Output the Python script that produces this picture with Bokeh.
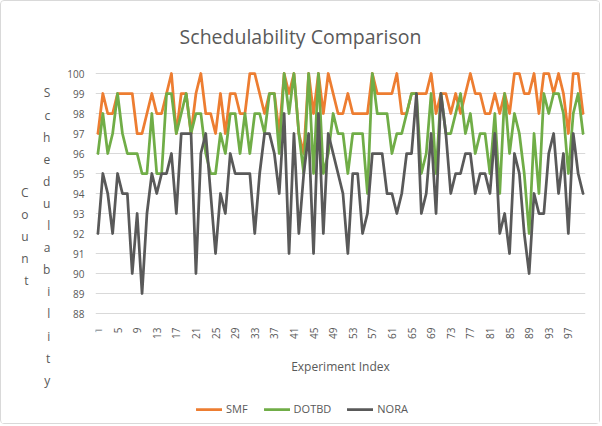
import math
from bokeh.plotting import figure
from bokeh.models import Range1d, FixedTicker, Legend, LegendItem, LinearAxis, Label
from bokeh.embed import file_html
from bokeh.resources import INLINE

# Schedulability (count) per experiment for each scheduler
experiment = list(range(1, 101))
smf = [97, 99, 98, 98, 99, 99, 99, 99, 97, 97,
       98, 99, 98, 98, 99, 100, 97, 99, 99, 97,
       99, 100, 98, 98, 97, 99, 97, 99, 99, 98,
       98, 100, 100, 99, 98, 99, 99, 97, 100, 99,
       100, 97, 96, 100, 98, 100, 98, 100, 99, 98,
       98, 99, 98, 98, 98, 98, 100, 99, 99, 99,
       99, 100, 98, 98, 99, 99, 99, 99, 100, 98,
       99, 99, 98, 99, 98, 99, 100, 99, 99, 98,
       98, 99, 98, 99, 98, 100, 100, 99, 99, 100,
       98, 100, 100, 99, 100, 99, 97, 100, 100, 98]
dotbd = [96, 98, 96, 97, 99, 97, 96, 96, 96, 95,
         95, 98, 95, 95, 99, 99, 97, 98, 99, 97,
         98, 98, 96, 95, 95, 97, 96, 98, 98, 96,
         98, 96, 98, 98, 97, 99, 99, 96, 100, 98,
         100, 97, 95, 100, 95, 100, 95, 96, 98, 97,
         97, 95, 97, 97, 97, 94, 100, 98, 98, 98,
         96, 97, 97, 98, 99, 99, 95, 96, 99, 95,
         99, 97, 97, 98, 99, 97, 98, 96, 97, 97,
         95, 98, 94, 99, 96, 98, 97, 95, 92, 97,
         94, 99, 98, 99, 99, 98, 95, 98, 99, 97]
nora = [92, 95, 94, 92, 95, 94, 94, 90, 93, 89,
        93, 95, 94, 95, 95, 96, 93, 97, 97, 97,
        90, 96, 97, 94, 91, 94, 93, 96, 95, 95,
        95, 95, 92, 95, 97, 97, 96, 94, 98, 91,
        97, 92, 95, 97, 91, 98, 92, 97, 96, 95,
        94, 91, 95, 95, 92, 93, 96, 96, 96, 94,
        94, 93, 94, 96, 96, 99, 93, 94, 97, 93,
        99, 97, 94, 95, 95, 96, 96, 94, 95, 95,
        94, 97, 92, 93, 91, 96, 95, 92, 90, 94,
        93, 93, 96, 97, 94, 96, 92, 97, 95, 94]

series_names = ["SMF", "DOTBD", "NORA"]
series_colors = ["#ED7D31", "#70AD47", "#595959"]

x_ticks = [1, 5, 9, 13, 17, 21, 25, 29, 33, 37, 41, 45, 49,
           53, 57, 61, 65, 69, 73, 77, 81, 85, 89, 93, 97]
y_ticks = [88, 89, 90, 91, 92, 93, 94, 95, 96, 97, 98, 99, 100]

title_text = "Schedulability Comparison"
x_title = "Experiment Index"
y_title_words = ["Schedulability", "Count"]

FONT = "Open Sans"
TEXT = "#595959"

# canvas 600x424 inside a 1px chart border; frame spans x 94..584, y 24..424
LEFT, RIGHT, TOP = 94, 16, 24
X0, X1 = 0.5, 100.5
Y0, Y1 = 82.4, 102.4          # 20 px per unit; 88..100 is the gridded band


def stacked(word):
    # one letter per row, with a leading blank row
    return "\n" + "\n".join(word)


p = figure(width=600, height=424, output_backend="svg", toolbar_location=None,
           x_range=Range1d(X0, X1), y_range=Range1d(Y0, Y1),
           min_border_left=LEFT, min_border_right=RIGHT,
           min_border_top=TOP, min_border_bottom=0,
           background_fill_color="white", border_fill_color="white")
p.outline_line_color = None
p.styles = {"border": "1px solid #D9D9D9", "border-radius": "4px"}

renderers = []
for vals, col in zip([smf, dotbd, nora], series_colors):
    renderers.append(p.line(experiment, vals, line_color=col, line_width=2.75,
                            line_join="round", line_cap="round"))

# axes
p.xaxis.ticker = FixedTicker(ticks=x_ticks)
p.yaxis.ticker = FixedTicker(ticks=y_ticks)
for ax in (p.xaxis[0], p.yaxis[0]):
    ax.axis_line_color = None
    ax.major_tick_line_color = None
    ax.minor_tick_line_color = None
    ax.major_tick_out = 0
    ax.major_tick_in = 0
    ax.minor_tick_out = 0
    ax.major_label_text_color = TEXT
    ax.major_label_text_font = FONT
    ax.major_label_text_font_size = "10px"
    ax.axis_label_text_color = TEXT
    ax.axis_label_text_font = FONT
    ax.axis_label_text_font_style = "normal"

# the category axis sits on the 88 gridline
p.xaxis.fixed_location = y_ticks[0]
p.xaxis.major_label_orientation = math.pi / 2
p.xaxis.major_label_standoff = 14
p.xaxis.axis_label = x_title
p.xaxis.axis_label_text_font_size = "12px"
p.xaxis.axis_label_standoff = 16

p.yaxis.major_label_standoff = 11
p.yaxis.axis_label = stacked(y_title_words[0])
p.yaxis.axis_label_orientation = "horizontal"
p.yaxis.axis_label_text_font_size = "12px"
p.yaxis.axis_label_text_line_height = 1.3
p.yaxis.axis_label_standoff = 14

# second stacked column of the vertical title
count_axis = LinearAxis(ticker=FixedTicker(ticks=[]), axis_line_color=None,
                        major_tick_out=0, major_tick_in=0, minor_tick_out=0,
                        major_label_standoff=0,
                        axis_label=stacked(y_title_words[1]),
                        axis_label_orientation="horizontal",
                        axis_label_text_font=FONT, axis_label_text_font_size="12px",
                        axis_label_text_font_style="normal",
                        axis_label_text_color=TEXT,
                        axis_label_text_line_height=1.3,
                        axis_label_standoff=11)
p.add_layout(count_axis, "left")

p.xgrid.visible = False
p.ygrid.grid_line_color = "#D9D9D9"
p.ygrid.grid_line_width = 1


# pixel (page) -> data, for the chart title
def dx(px):
    return X0 + (px - 1 - LEFT) * (X1 - X0) / (600 - LEFT - RIGHT)


def dy(py):
    return Y1 - (py - 1 - TOP) * (Y1 - Y0) / (424 - TOP)


p.add_layout(Label(x=dx(300), y=dy(36), text=title_text, text_align="center",
                   text_baseline="middle", text_font=FONT, text_font_size="19.5px",
                   text_color=TEXT))

legend = Legend(items=[LegendItem(label=n, renderers=[r]) for n, r in zip(series_names, renderers)],
                orientation="horizontal", location=(101, 9),
                glyph_width=26, glyph_height=14, label_standoff=4, spacing=16,
                padding=0, margin=0, border_line_color=None, background_fill_alpha=0,
                label_text_font=FONT, label_text_font_size="11px", label_text_color=TEXT)
p.add_layout(legend, "center")

open("out.html", "w").write(file_html(p, INLINE))
